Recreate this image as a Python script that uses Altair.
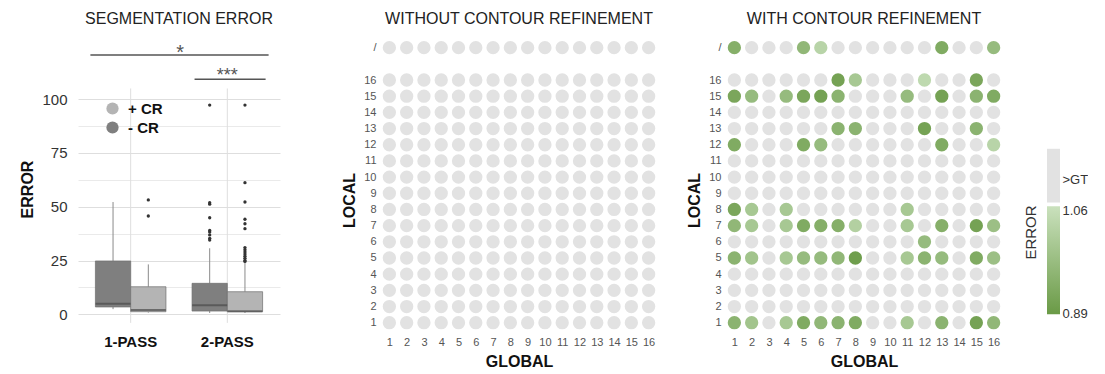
import altair as alt
import pandas as pd

FONT = "Liberation Sans"

# ---------------- data: segmentation error box plots ----------------
PASS_ORDER = ["1-PASS", "2-PASS"]
CR_ORDER = ["- CR", "+ CR"]
LEGEND_ORDER = ["+ CR", "- CR"]

box_pass = ["1-PASS", "1-PASS", "2-PASS", "2-PASS"]
box_cr = ["- CR", "+ CR", "- CR", "+ CR"]
box_low = [2.4, 0.8, 0.6, 0.6]
box_q1 = [3.4, 1.2, 1.5, 1.2]
box_median = [4.9, 2.0, 4.2, 1.4]
box_q3 = [24.8, 12.8, 14.4, 10.5]
box_high = [52.2, 23.2, 30.7, 24.0]

out_pass = (["1-PASS"] * 2 + ["2-PASS"] * 9 + ["2-PASS"] * 14)
out_cr = (["+ CR"] * 2 + ["- CR"] * 9 + ["+ CR"] * 14)
out_value = [45.7, 53.2,
             34.5, 35.3, 36.9, 38.3, 39.0, 44.9, 51.2, 51.9, 97.3,
             25.0, 26.0, 27.0, 28.0, 29.0, 30.0, 31.0, 39.8, 42.1, 44.2, 52.2, 61.2, 97.3, 24.6]

sig_label = ["*", "***"]
sig_level = [120.6, 109.3]
sig_from = ["1-PASS", "2-PASS"]
sig_to = ["2-PASS", "2-PASS"]

# ---------------- data: refinement grids ----------------
GLOBAL_IDS = list(range(1, 17))
LOCAL_IDS = [str(i) for i in range(1, 17)] + ["/"]

cr_local = (["/"] * 5 + ["16"] * 4 + ["15"] * 10 + ["13"] * 4 + ["12"] * 5 + ["8"] * 4
            + ["7"] * 11 + ["6"] * 1 + ["5"] * 12 + ["1"] * 11)
cr_global = ([1, 5, 6, 13, 16]
             + [7, 8, 12, 15]
             + [1, 2, 4, 5, 6, 7, 11, 13, 15, 16]
             + [7, 8, 12, 15]
             + [1, 5, 6, 13, 16]
             + [1, 2, 4, 11]
             + [1, 2, 4, 5, 6, 7, 8, 11, 13, 15, 16]
             + [12]
             + [1, 2, 4, 5, 6, 7, 8, 11, 12, 13, 15, 16]
             + [1, 2, 4, 5, 6, 7, 8, 11, 13, 15, 16])
cr_error = ([0.94, 0.96, 1.03, 0.93, 0.97]
            + [0.91, 1.00, 1.04, 0.92]
            + [0.92, 0.97, 0.97, 0.92, 0.91, 0.95, 0.97, 0.91, 0.95, 0.93]
            + [0.95, 0.95, 0.91, 0.95]
            + [0.93, 0.93, 0.97, 0.93, 1.03]
            + [0.92, 1.00, 1.00, 1.00]
            + [0.96, 1.00, 1.00, 0.93, 0.94, 0.94, 1.02, 1.00, 0.94, 0.91, 0.98]
            + [0.97]
            + [0.95, 0.99, 1.00, 0.97, 0.97, 0.96, 0.90, 1.00, 0.95, 0.97, 0.93, 0.98]
            + [0.95, 0.99, 1.00, 0.93, 0.96, 0.95, 0.93, 1.00, 0.95, 0.91, 0.96])

ERR_MIN, ERR_MAX = 0.89, 1.06
LEGEND_LABELS = [0.89, 1.06]
GT_LABEL = ">GT"

# ---------------- styles ----------------
GREY_DOT = "#e2e2e2"
DARK_GREEN = "#6a9a46"
LIGHT_GREEN = "#cae1bd"
LIGHT_BOX = "#b4b4b4"
DARK_BOX = "#7f7f7f"


def title(text):
    return alt.TitleParams(text, fontSize=16, fontWeight="normal", color="#222", font=FONT,
                           offset=9, anchor="middle", frame="group")


# ---------------- left panel ----------------
box_df = pd.DataFrame(dict(pass_=box_pass, cr=box_cr, lo=box_low, q1=box_q1,
                           med=box_median, q3=box_q3, hi=box_high))
out_df = pd.DataFrame(dict(pass_=out_pass, cr=out_cr, v=out_value))
sig_df = pd.DataFrame(dict(pass_=sig_from, pass_to=sig_to, level=sig_level, label=sig_label))
vgrid_df = pd.DataFrame(dict(pass_=PASS_ORDER))

x_scale = alt.Scale(domain=PASS_ORDER, paddingInner=0.27, paddingOuter=0.18)
x_axis = alt.Axis(title=None, labelFontSize=15, labelFontWeight="bold", labelColor="#111",
                  ticks=False, domain=False, labelPadding=1, labelAngle=0, grid=False)
y_scale = alt.Scale(domain=[-8.7, 129.4], nice=False, zero=False)
y_axis = alt.Axis(values=[0, 12.5, 25, 37.5, 50, 62.5, 75, 87.5, 100],
                  labelExpr="datum.value % 25 == 0 ? datum.label : ''",
                  title="ERROR", titleFontSize=16, titleFontWeight="bold", titleColor="#111",
                  titlePadding=6, titleY=153,
                  labelFontSize=15, labelColor="#333", labelPadding=11,
                  ticks=False, domain=False, grid=True, gridWidth=1,
                  gridColor=alt.condition("datum.value % 25 == 0", alt.value("#dedede"), alt.value("#eaeaea")))


def X(field="pass_:N", **kw):
    return alt.X(field, scale=x_scale, axis=x_axis, **kw)


def Y(field):
    return alt.Y(field, scale=y_scale, axis=y_axis)


xoff = alt.XOffset("cr:N", scale=alt.Scale(domain=CR_ORDER, paddingInner=0, paddingOuter=0))

vgrid = alt.Chart(vgrid_df).mark_rule(color="#dedede", strokeWidth=1).encode(
    x=X(), y=alt.Y(datum=-4, scale=y_scale, axis=y_axis), y2=alt.Y2(datum=105))

wlow = alt.Chart(box_df).mark_rule(color="#8a8a8a").encode(x=X(), xOffset=xoff, y=Y("lo:Q"), y2="q1:Q")
whigh = alt.Chart(box_df).mark_rule(color="#8a8a8a").encode(x=X(), xOffset=xoff, y=Y("q3:Q"), y2="hi:Q")
boxes = alt.Chart(box_df).mark_bar(stroke="#6e6e6e", strokeWidth=0.7).encode(
    x=X(), xOffset=xoff, y=Y("q1:Q"), y2="q3:Q",
    color=alt.Color("cr:N", scale=alt.Scale(domain=LEGEND_ORDER, range=[LIGHT_BOX, DARK_BOX]),
                    legend=alt.Legend(title=None, orient="none", legendX=27, legendY=65,
                                      symbolType="circle", symbolSize=150, symbolStrokeWidth=0,
                                      labelFontSize=15, labelFontWeight="bold", labelColor="#111",
                                      labelFont=FONT, labelOffset=8, rowPadding=3, padding=0)))
medians = alt.Chart(box_df).mark_tick(color="#4a4a4a", thickness=2, size=35).encode(
    x=X(), xOffset=xoff, y=Y("med:Q"))
outs = alt.Chart(out_df).mark_circle(color="#333333", size=11, opacity=1).encode(
    x=X(), xOffset=xoff, y=Y("v:Q"))

# line extents / text placement of the two significance brackets
sig_style = [dict(o0=-5, o1=6, tx="pass_to:N", bt=0, tdx=-12, fs=20, dy=4),
             dict(o0=2.5, o1=3, tx="pass_:N", bt=0.5, tdx=0, fs=18, dy=2)]
sig_layers = []
for i, st in enumerate(sig_style):
    d = sig_df.iloc[[i]]
    sig_layers.append(alt.Chart(d).mark_rule(color="#555", strokeWidth=1.5,
                                             xOffset=st["o0"], x2Offset=st["o1"]).encode(
        x=X("pass_:N", bandPosition=0), x2=alt.X2("pass_to:N", bandPosition=1),
        y=Y("level:Q")))
    sig_layers.append(alt.Chart(d).mark_text(color="#555", fontSize=st["fs"], baseline="alphabetic",
                                             dx=st["tdx"], dy=st["dy"], font=FONT).encode(
        x=X(st["tx"], bandPosition=st["bt"]), y=Y("level:Q"), text="label:N"))

left = alt.layer(vgrid, wlow, whigh, boxes, medians, outs, *sig_layers).properties(
    width=202, height=297, title=title("SEGMENTATION ERROR"))

# ---------------- grid panels ----------------
local_pos = {lab: (18 if lab == "/" else int(lab)) for lab in LOCAL_IDS}
all_cells = pd.DataFrame([(g, local_pos[l]) for l in LOCAL_IDS for g in GLOBAL_IDS], columns=["g", "l"])
col_df = pd.DataFrame(dict(g=cr_global, l=[local_pos[v] for v in cr_local], e=cr_error))
colored_keys = set(zip(col_df["g"], col_df["l"]))
grey_right = all_cells[[(g, l) not in colored_keys for g, l in zip(all_cells["g"], all_cells["l"])]]

gx = alt.X("g:Q", scale=alt.Scale(domain=[0.4, 16.6], nice=False, zero=False),
           axis=alt.Axis(values=GLOBAL_IDS, title="GLOBAL", grid=False, domain=False, ticks=False,
                         labelFontSize=11, labelColor="#555", labelPadding=3,
                         titleFontSize=16, titleFontWeight="bold", titleColor="#111", titlePadding=6))
gy = alt.Y("l:Q", scale=alt.Scale(domain=[0.364, 18.72], nice=False, zero=False),
           axis=alt.Axis(values=sorted(local_pos.values()), labelExpr="datum.value > 17 ? '/' : datum.label",
                         title="LOCAL", grid=False, domain=False, ticks=False,
                         labelFontSize=11, labelColor="#555", labelPadding=3,
                         titleFontSize=16, titleFontWeight="bold", titleColor="#111", titlePadding=6,
                         titleY=164))
DOT = 177


def grid_panel(text, grey_df, color_df=None):
    layers = [alt.Chart(grey_df).mark_circle(size=DOT, opacity=1, color=GREY_DOT).encode(x=gx, y=gy)]
    if color_df is not None:
        layers.append(alt.Chart(color_df).mark_circle(size=DOT, opacity=1).encode(
            x=gx, y=gy,
            color=alt.Color("e:Q", scale=alt.Scale(domain=[ERR_MIN, ERR_MAX], range=[DARK_GREEN, LIGHT_GREEN]),
                            legend=None)))
    return alt.layer(*layers).properties(width=280, height=297, title=title(text))


middle = grid_panel("WITHOUT CONTOUR REFINEMENT", all_cells)
right = grid_panel("WITH CONTOUR REFINEMENT", grey_right, col_df)

# ---------------- colour legend ----------------
leg_scale = alt.Scale(domain=[0.858, 1.3497], nice=False, zero=False)
leg_axis = alt.Axis(orient="right", values=LEGEND_LABELS + [1.1125],
                    labelExpr="datum.value > 1.1 ? '" + GT_LABEL + "' : format(datum.value, '.2f')",
                    labelFontSize=13, labelColor="#333", labelPadding=2, labelBaseline="middle",
                    ticks=False, domain=False, grid=False,
                    title="ERROR", titleFontSize=15, titleFontWeight="normal", titleColor="#333",
                    titleAngle=270, titleX=-30, titleY=196, titleBaseline="middle", titleAlign="center")
grad_df = pd.DataFrame(dict(lo=[ERR_MIN - 0.001], hi=[ERR_MAX + 0.008]))
gt_df = pd.DataFrame(dict(lo=[ERR_MAX + 0.014], hi=[1.163]))
grad = alt.Chart(grad_df).mark_rect(color=alt.Gradient(
    gradient="linear",
    stops=[alt.GradientStop(offset=0, color=LIGHT_GREEN), alt.GradientStop(offset=1, color=DARK_GREEN)],
    x1=0, x2=0, y1=0, y2=1)).encode(y=alt.Y("lo:Q", scale=leg_scale, axis=leg_axis), y2="hi:Q")
gt = alt.Chart(gt_df).mark_rect(color=GREY_DOT).encode(y=alt.Y("lo:Q", scale=leg_scale, axis=leg_axis), y2="hi:Q")
legend = alt.layer(grad, gt).properties(width=13, height=297, title=title(" "))

chart = alt.hconcat(
    left,
    alt.hconcat(middle, alt.hconcat(right, legend, spacing=19), spacing=27),
    spacing=61,
).properties(
    padding={"left": 19, "top": 11, "right": 0, "bottom": 0}
).configure(font=FONT).configure_view(stroke=None)

chart.save("out.html", embed_options={"renderer": "svg", "actions": False})
